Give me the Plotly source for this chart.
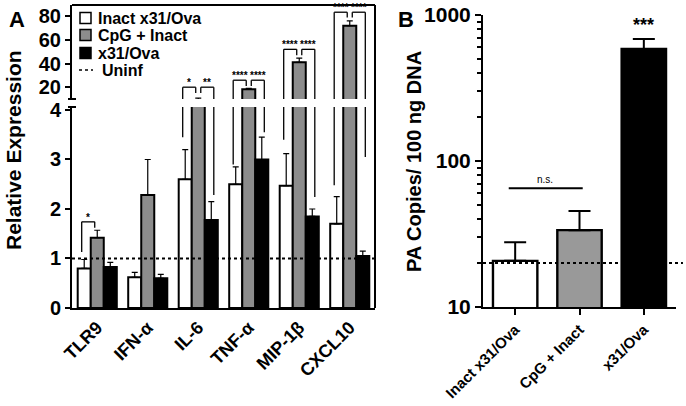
import math
import plotly.graph_objects as go

W, H = 686, 406

# ---- panel A data ----
genes = ["TLR9", "IFN-α", "IL-6", "TNF-α", "MIP-1β", "CXCL10"]
groups = ["Inact x31/Ova", "CpG + Inact", "x31/Ova"]
inact_vals = [0.80, 0.62, 2.60, 2.50, 2.47, 1.70]
inact_err = [0.18, 0.10, 0.60, 0.35, 0.65, 0.55]
cpg_vals = [1.42, 2.28, 9.0, 18.3, 41.0, 72.0]
cpg_err = [0.15, 0.72, 1.8, 0.8, 3.5, 4.0]
x31_vals = [0.83, 0.60, 1.78, 3.00, 1.85, 1.05]
x31_err = [0.09, 0.08, 0.37, 0.45, 0.15, 0.10]
uninf_level = 1.0

# significance brackets: gene index, left slot, right slot, top, leg ends, label
sig_gene = [0, 2, 2, 3, 3, 4, 4, 5, 5]
sig_left = [0, 0, 1, 0, 1, 0, 1, 0, 1]
sig_right = [1, 1, 2, 1, 2, 1, 2, 1, 2]
sig_top = [1.74, 20, 20, 25.9, 25.9, 52, 52, 83.4, 83.4]
sig_left_end = [1.13, 3.45, 15, 2.9, 21, 3.4, 47, 2.48, 79]
sig_right_end = [1.62, 15, 2.28, 21, 3.55, 47, 2.24, 79, 3.05]
sig_label = ["*", "*", "**", "****", "****", "****", "****", "****", "****"]

# ---- panel B data ----
b_groups = ["Inact x31/Ova", "CpG + Inact", "x31/Ova"]
b_vals = [20.7, 33.6, 585]
b_err = [7.1, 11.9, 101]
b_uninf = 20
ns_level = 65
b_star_level = 850

WHITE, GRAY, BLACK = "white", "#8c8c8c", "black"
FONT = "Liberation Sans"


# axis geometry (pixels -> paper)
def px(x):
    return x / W


def py(y):
    return 1 - y / H


LOW_TOP = 4.06
UP_BOT = 10.0
UP_TOP = 89.5

bar_w = 0.258
offsets = [-1.5 * bar_w, -0.5 * bar_w, 0.5 * bar_w]

fig = go.Figure()

colors = [WHITE, GRAY, BLACK]
vals = [inact_vals, cpg_vals, x31_vals]
errs = [inact_err, cpg_err, x31_err]
for i in range(3):
    for xa, ya in (("x", "y"), ("x2", "y2")):
        if ya == "y2" and i != 1:
            continue
        fig.add_trace(go.Bar(
            x=genes, y=vals[i], name=groups[i],
            width=bar_w, offset=offsets[i],
            marker=dict(color=colors[i], line=dict(color="black", width=2)),
            error_y=dict(type="data", array=errs[i], arrayminus=[0] * 6,
                         symmetric=False, color="black", thickness=1.2, width=3),
            xaxis=xa, yaxis=ya, showlegend=False,
        ))

# panel B bars
b_colors = [WHITE, "#999999", BLACK]
fig.add_trace(go.Bar(
    x=b_groups, y=b_vals, width=0.69,
    marker=dict(color=b_colors, line=dict(color="black", width=2.4)),
    error_y=dict(type="data", array=b_err, arrayminus=[0] * 3, symmetric=False,
                 color="black", thickness=2, width=11),
    xaxis="x3", yaxis="y3", showlegend=False,
))

shapes = []
line_k = dict(color="black", width=1.3)


def seg_v(x, lo, hi):
    if hi <= LOW_TOP:
        shapes.append(dict(type="line", xref="x", yref="y", x0=x, x1=x, y0=lo, y1=hi, line=line_k))
    elif lo >= UP_BOT:
        shapes.append(dict(type="line", xref="x2", yref="y2", x0=x, x1=x, y0=lo, y1=hi, line=line_k))
    else:
        shapes.append(dict(type="line", xref="x", yref="y", x0=x, x1=x, y0=lo, y1=LOW_TOP, line=line_k))
        shapes.append(dict(type="line", xref="x2", yref="y2", x0=x, x1=x, y0=UP_BOT, y1=hi, line=line_k))


annotations = []
slot_center = [-bar_w, 0, bar_w]
for g, a, b, top, le, re, lab in zip(sig_gene, sig_left, sig_right, sig_top,
                                     sig_left_end, sig_right_end, sig_label):
    xl = g + slot_center[a] + (0.05 if a == 1 else -0.05)
    xr = g + slot_center[b] + (-0.05 if b == 1 else 0.05)
    seg_v(xl, le, top)
    seg_v(xr, re, top)
    ref = ("x", "y") if top <= LOW_TOP else ("x2", "y2")
    shapes.append(dict(type="line", xref=ref[0], yref=ref[1], x0=xl, x1=xr,
                       y0=top, y1=top, line=line_k))
    annotations.append(dict(x=(xl + xr) / 2, y=top, xref=ref[0], yref=ref[1],
                            text=lab, showarrow=False, xanchor="center", yanchor="bottom",
                            yshift=-3,
                            font=dict(size=10, color="black", family=FONT, weight="bold")))

# uninfected reference lines
shapes.append(dict(type="line", xref="x domain", yref="y", x0=0, x1=1,
                   y0=uninf_level, y1=uninf_level,
                   line=dict(color="black", width=2, dash="dot")))
shapes.append(dict(type="line", xref="x3 domain", yref="y3", x0=0, x1=1.036,
                   y0=b_uninf, y1=b_uninf,
                   line=dict(color="black", width=2, dash="dot")))

# panel A frame (top + right)
shapes.append(dict(type="line", xref="paper", yref="paper", x0=px(72), x1=px(375),
                   y0=py(5), y1=py(5), line=dict(color="black", width=2)))
shapes.append(dict(type="line", xref="paper", yref="paper", x0=px(375), x1=px(375),
                   y0=py(5), y1=py(308), line=dict(color="black", width=2)))
# small caps at the two ends of the axis break
for yy in (99, 107):
    shapes.append(dict(type="line", xref="paper", yref="paper", x0=px(68), x1=px(76),
                       y0=py(yy), y1=py(yy), line=dict(color="black", width=2)))

# n.s. bar in panel B (annotations on a log axis take log10 positions)
shapes.append(dict(type="line", xref="x3", yref="y3", x0=-0.1, x1=1.05,
                   y0=ns_level, y1=ns_level, line=dict(color="black", width=2)))
annotations.append(dict(x=0.47, y=math.log10(ns_level), xref="x3", yref="y3", text="n.s.",
                        showarrow=False, xanchor="center", yanchor="bottom", yshift=1,
                        font=dict(size=10, color="black", family=FONT)))
annotations.append(dict(x=2, y=math.log10(b_star_level), xref="x3", yref="y3", text="***",
                        showarrow=False, xanchor="center", yanchor="middle",
                        font=dict(size=18, color="black", family=FONT, weight="bold")))

# legend drawn by hand
leg_rows = [18, 35, 53, 70]
leg_font = dict(size=16, color="black", family=FONT, weight="bold")
for i in range(3):
    shapes.append(dict(type="rect", xref="paper", yref="paper",
                       x0=px(80), x1=px(91), y0=py(leg_rows[i] + 5.5), y1=py(leg_rows[i] - 5.5),
                       fillcolor=colors[i], line=dict(color="black", width=1.5)))
    annotations.append(dict(x=px(96), y=py(leg_rows[i]), xref="paper", yref="paper",
                            text=groups[i], showarrow=False, xanchor="left", yanchor="middle",
                            font=leg_font))
shapes.append(dict(type="line", xref="paper", yref="paper", x0=px(79), x1=px(93),
                   y0=py(leg_rows[3]), y1=py(leg_rows[3]),
                   line=dict(color="black", width=1.5, dash="dot")))
annotations.append(dict(x=px(100), y=py(leg_rows[3]), xref="paper", yref="paper",
                        text="Uninf", showarrow=False, xanchor="left", yanchor="middle",
                        font=leg_font))

# panel letters and axis titles
for txt, x, y in (("A", 17, 19), ("B", 406, 19)):
    annotations.append(dict(x=px(x), y=py(y), xref="paper", yref="paper", text=txt,
                            showarrow=False, xanchor="center", yanchor="middle",
                            font=dict(size=22, color="black", family=FONT, weight="bold")))
annotations.append(dict(x=px(13), y=py(150), xref="paper", yref="paper",
                        text="Relative Expression", textangle=-90, showarrow=False,
                        xanchor="center", yanchor="middle",
                        font=dict(size=21, color="black", family=FONT, weight="bold")))
annotations.append(dict(x=px(414), y=py(162), xref="paper", yref="paper",
                        text="PA Copies/ 100 ng DNA", textangle=-90, showarrow=False,
                        xanchor="center", yanchor="middle",
                        font=dict(size=20, color="black", family=FONT, weight="bold")))

tick_font = dict(size=20, color="black", family=FONT, weight="bold")
axis_common = dict(showline=True, linecolor="black", linewidth=2, showgrid=False,
                   zeroline=False, ticks="outside", tickcolor="black", tickwidth=2,
                   automargin=False)

fig.update_layout(
    width=W, height=H, margin=dict(l=0, r=0, t=0, b=0),
    paper_bgcolor="white", plot_bgcolor="white",
    barmode="overlay", showlegend=False,
    shapes=shapes, annotations=annotations,
    xaxis=dict(domain=[px(72), px(375)], anchor="y", range=[-0.5, 5.5],
               showline=True, linecolor="black", linewidth=2, showgrid=False,
               ticks="", tickangle=-45, automargin=False,
               tickfont=dict(size=18, color="black", family=FONT, weight="bold")),
    xaxis2=dict(domain=[px(72), px(375)], anchor="y2", matches="x", visible=False),
    yaxis=dict(domain=[py(308), py(107)], anchor="x", range=[0, LOW_TOP],
               tickvals=[0, 1, 2, 3, 4], ticklen=5, tickfont=tick_font, **axis_common),
    yaxis2=dict(domain=[py(99), py(5)], anchor="x2", range=[UP_BOT, UP_TOP],
                tickvals=[20, 40, 60, 80], ticklen=5, tickfont=tick_font, **axis_common),
    xaxis3=dict(domain=[px(483), px(676)], anchor="y3", range=[-0.5, 2.5],
                tickangle=-45, ticklen=6,
                tickfont=dict(size=15, color="black", family=FONT, weight="bold"),
                **axis_common),
    yaxis3=dict(domain=[py(307), py(15)], anchor="x3", type="log", range=[1, 3],
                tickvals=[10, 100, 1000], ticktext=["10", "100", "1000"], ticklen=6,
                minor=dict(ticks="outside", ticklen=4, tickwidth=2, tickcolor="black",
                           tickvals=[20, 30, 40, 50, 60, 70, 80, 90,
                                     200, 300, 400, 500, 600, 700, 800, 900]),
                tickfont=dict(size=21, color="black", family=FONT, weight="bold"),
                **axis_common),
)

# drop the page's default body margin so the figure sits at the window corner
fig.write_html("out.html", config={"displayModeBar": False},
               post_script="document.body.style.margin='0';")
